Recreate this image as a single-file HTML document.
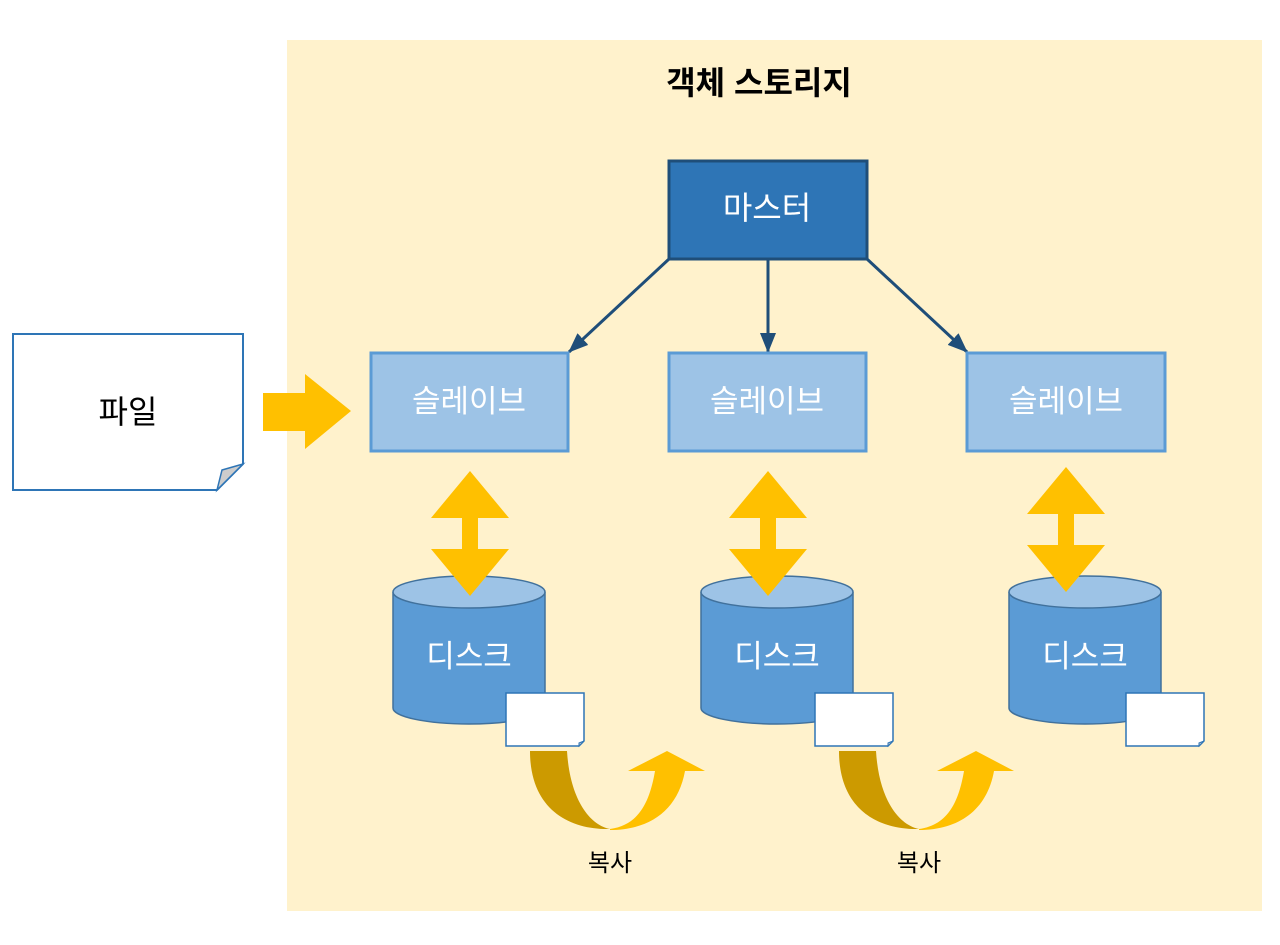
<!DOCTYPE html>
<html><head><meta charset="utf-8"><style>
body{margin:0;background:#fff}
svg{display:block}
text{font-family:"Liberation Sans","Noto Sans CJK KR",sans-serif}
</style></head><body>
<svg width="1280" height="945" viewBox="0 0 1280 945" xmlns="http://www.w3.org/2000/svg">
<defs>
<marker id="ah" markerWidth="20" markerHeight="16" refX="19" refY="8" orient="auto" markerUnits="userSpaceOnUse" viewBox="0 0 20 16">
<path d="M0,0 L20,8 L0,16 Z" fill="#1f4e79"/></marker>
<g id="dbl"><path d="M0,0 L39,47 L8,47 L8,78 L39,78 L0,125 L-39,78 L-8,78 L-8,47 L-39,47 Z" fill="#ffc000"/></g>
<g id="cyl">
<path d="M-76,16 L-76,132 A76,16 0 0 0 76,132 L76,16" fill="#5b9bd5" stroke="#41719c" stroke-width="1.5"/>
<ellipse cx="0" cy="16" rx="76" ry="16" fill="#9dc3e6" stroke="#41719c" stroke-width="1.5"/>
<text x="0" y="91" font-size="31" fill="#fff" text-anchor="middle">디스크</text>
</g>
<g id="doc"><path d="M0,0 H78 V48 L73,53 H0 Z" fill="#fff" stroke="#2e75b6" stroke-width="1.5"/><path d="M78,48 L73,50 L73,53 Z" fill="#ccc" stroke="#2e75b6" stroke-width="1"/></g>
<g id="curve">
<path d="M0,0 L37,0 C40,49 60,74 80,78 C40,79 0,59 0,0 Z" fill="#cc9a00"/>
<path d="M80,78 C110,74 120,49 125,20 L98,20 L137,0 L175,20 L155,20 C148,59 120,79 80,79 Z" fill="#ffc000"/>
</g>
</defs>
<rect x="287" y="40" width="975" height="871" fill="#fff2cc"/>
<text x="759" y="94" font-size="32" font-weight="bold" text-anchor="middle" fill="#000">객체 스토리지</text>

<rect x="669" y="161" width="198" height="98" fill="#2e75b6" stroke="#1f4e79" stroke-width="3"/>
<text x="767" y="219" font-size="32" fill="#fff" text-anchor="middle">마스터</text>

<g stroke="#1f4e79" stroke-width="3" fill="none">
<line x1="669" y1="259" x2="569" y2="352" marker-end="url(#ah)"/>
<line x1="768" y1="259" x2="768" y2="352" marker-end="url(#ah)"/>
<line x1="867" y1="259" x2="967" y2="352" marker-end="url(#ah)"/>
</g>

<g fill="#9dc3e6" stroke="#5b9bd5" stroke-width="3">
<rect x="371" y="353" width="197" height="98"/>
<rect x="669" y="353" width="197" height="98"/>
<rect x="967" y="353" width="198" height="98"/>
</g>
<g font-size="31" fill="#fff" text-anchor="middle">
<text x="469" y="412">슬레이브</text>
<text x="767" y="412">슬레이브</text>
<text x="1066" y="412">슬레이브</text>
</g>

<use href="#cyl" x="469" y="576"/>
<use href="#cyl" x="777" y="576"/>
<use href="#cyl" x="1085" y="576"/>

<use href="#dbl" x="470" y="471"/>
<use href="#dbl" x="768" y="471"/>
<use href="#dbl" x="1066" y="467"/>

<use href="#doc" x="506" y="693"/>
<use href="#doc" x="815" y="693"/>
<use href="#doc" x="1126" y="693"/>

<use href="#curve" x="530" y="751"/>
<use href="#curve" x="839" y="751"/>
<text x="610" y="871" font-size="24" text-anchor="middle" fill="#000">복사</text>
<text x="919" y="871" font-size="24" text-anchor="middle" fill="#000">복사</text>

<path d="M13,334 H243 V464 L217,490 H13 Z" fill="#fff" stroke="#2e75b6" stroke-width="2"/>
<path d="M243,464 L222,470 L217,490 Z" fill="#ccc" stroke="#2e75b6" stroke-width="1.5"/>
<text x="128" y="423" font-size="32" text-anchor="middle" fill="#000">파일</text>

<path d="M263,393 L305,393 L305,374 L351,411 L305,449 L305,431 L263,431 Z" fill="#ffc000"/>
</svg>
</body></html>
